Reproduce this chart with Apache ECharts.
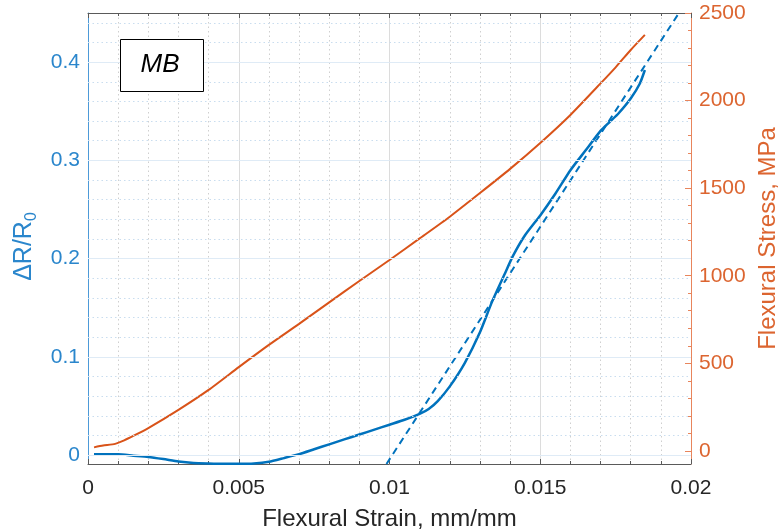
<!DOCTYPE html>
<html>
<head>
<meta charset="utf-8">
<script src="https://cdn.jsdelivr.net/npm/echarts@6/dist/echarts.min.js"></script>
<style>html,body{margin:0;padding:0;background:#fff}#c{width:779px;height:531px}</style>
</head>
<body>
<div id="c"></div>
<script>
// ---- data ----
const blueStrain = [0.0002,0.0005,0.001,0.0015,0.002,0.0025,0.003,0.0035,0.004,0.0045,0.005,0.0055,0.006,0.0065,0.007,0.0075,0.008,0.0085,0.009,0.0095,0.010,0.0105,0.011,0.0113,0.0116,0.012,0.0125,0.013,0.0134,0.0138,0.0141,0.0145,0.015,0.0155,0.016,0.0165,0.017,0.0173,0.0176,0.018,0.0183,0.01847];
const blueDR = [0.001,0.001,0.0008,-0.0005,-0.0018,-0.004,-0.0065,-0.008,-0.0085,-0.0088,-0.0088,-0.0085,-0.0068,-0.003,0.001,0.006,0.011,0.016,0.021,0.026,0.031,0.036,0.042,0.047,0.055,0.070,0.094,0.125,0.156,0.183,0.203,0.224,0.244,0.266,0.290,0.310,0.330,0.339,0.348,0.363,0.378,0.392];
const orangeStrain = [0.0002,0.0005,0.0009,0.0012,0.0015,0.002,0.003,0.004,0.005,0.006,0.007,0.008,0.009,0.010,0.011,0.012,0.013,0.014,0.015,0.016,0.017,0.0175,0.018,0.01847];
const orangeStress = [20,30,40,60,85,130,234,348,478,605,725,848,970,1090,1213,1337,1472,1610,1758,1918,2098,2190,2289,2375];
const fitStrain = [0.0099,0.0196];
const fitDR = [-0.009,0.45];
const xTicks = [0,0.005,0.01,0.015,0.02];
const leftTicks = [0,0.1,0.2,0.3,0.4];
const leftMinorGrid = [0.02,0.04,0.06,0.08,0.12,0.14,0.16,0.18,0.22,0.24,0.26,0.28,0.32,0.34,0.36,0.38,0.42,0.44];
const rightTicks = [0,500,1000,1500,2000,2500];
const rightMinorTicks = [100,200,300,400,600,700,800,900,1100,1200,1300,1400,1600,1700,1800,1900,2100,2200,2300,2400];

const pairs = (xs, ys) => xs.map((x, i) => [x, ys[i]]);
const FONT = 'Liberation Sans, Arial, sans-serif';
const BLUE = '#0072BD', ORANGE = '#D95319';
const BLUE_AX = '#4d9ad8', BLUE_TXT = '#2a86cc';
const OR_AX = '#e8855c', OR_TXT = '#dc6530';
const GRAY_AX = '#5a5a5a';
const GRID = {left: 88, right: 88, top: 13, bottom: 67, containLabel: false, outerBoundsMode: 'none'};

const chart = echarts.init(document.getElementById('c'), null, {renderer: 'canvas'});
const gridLines = [];
leftTicks.forEach(v => gridLines.push({yAxis: v, lineStyle: {color: '#dfebf6', width: 1, type: 'solid'}}));
leftMinorGrid.forEach(v => gridLines.push({yAxis: v, lineStyle: {color: '#c9ddef', width: 1, type: [1.5, 3]}}));

chart.setOption({
  animation: false,
  grid: [Object.assign({}, GRID), Object.assign({}, GRID)],
  xAxis: [{
    type: 'value', gridIndex: 0, min: 0, max: 0.02, interval: 0.005, position: 'bottom',
    axisLine: {show: true, onZero: false, lineStyle: {color: GRAY_AX, width: 1}},
    axisTick: {show: true, inside: true, length: 5, lineStyle: {color: GRAY_AX}},
    minorTick: {show: true, splitNumber: 5, length: 3, lineStyle: {color: GRAY_AX}},
    axisLabel: {color: '#262626', fontFamily: FONT, fontSize: 21, margin: 14,
      formatter: v => xTicks.some(t => Math.abs(t - v) < 1e-9) ? String(+v.toFixed(3)) : ''},
    splitLine: {show: true, lineStyle: {color: '#dcdcdc', width: 1}},
    minorSplitLine: {show: true, lineStyle: {color: '#cfcfcf', width: 1, type: [1.5, 3]}},
    name: 'Flexural Strain, mm/mm', nameLocation: 'middle', nameGap: 43,
    nameTextStyle: {color: '#262626', fontFamily: FONT, fontSize: 24}
  }, {
    type: 'value', gridIndex: 0, min: 0, max: 0.02, interval: 0.005, position: 'top',
    axisLine: {show: true, onZero: false, lineStyle: {color: GRAY_AX, width: 1}},
    axisTick: {show: true, inside: true, length: 5, lineStyle: {color: GRAY_AX}},
    minorTick: {show: true, splitNumber: 5, length: 3, lineStyle: {color: GRAY_AX}},
    axisLabel: {show: false}, splitLine: {show: false}
  }, {
    type: 'value', gridIndex: 1, min: 0, max: 0.02, interval: 0.005, show: false,
    axisLine: {onZero: false}
  }],
  yAxis: [{
    type: 'value', gridIndex: 0, min: -0.009, max: 0.45, position: 'left',
    axisLine: {show: true, onZero: false, lineStyle: {color: BLUE_AX, width: 1}},
    axisTick: {show: true, inside: true, length: 5, customValues: leftTicks, lineStyle: {color: BLUE_AX}},
    axisLabel: {color: BLUE_TXT, fontFamily: FONT, fontSize: 21, margin: 8, customValues: leftTicks,
      formatter: v => String(v)},
    splitLine: {show: false},
    name: '{a|ΔR/R}{b|0}', nameLocation: 'middle', nameGap: 40, nameRotate: 90,
    nameTextStyle: {padding: [0, 16, 0, 0], rich: {
      a: {color: BLUE_TXT, fontFamily: FONT, fontSize: 25, lineHeight: 32, verticalAlign: 'middle'},
      b: {color: BLUE_TXT, fontFamily: FONT, fontSize: 16, lineHeight: 32, verticalAlign: 'bottom'}
    }}
  }, {
    type: 'value', gridIndex: 0, min: -75, max: 2500, position: 'right',
    axisLine: {show: true, onZero: false, lineStyle: {color: OR_AX, width: 1}},
    axisTick: {show: true, inside: true, length: 6, customValues: rightTicks, lineStyle: {color: OR_AX}},
    axisLabel: {color: OR_TXT, fontFamily: FONT, fontSize: 21, margin: 8, customValues: rightTicks,
      formatter: v => String(v)},
    splitLine: {show: false},
    name: 'Flexural Stress, MPa', nameLocation: 'middle', nameGap: 63, nameRotate: 90,
    nameTextStyle: {color: OR_TXT, fontFamily: FONT, fontSize: 24}
  }, {
    type: 'value', gridIndex: 1, min: -75, max: 2500, position: 'right',
    axisLine: {show: false, onZero: false},
    axisTick: {show: true, inside: true, length: 3, customValues: rightMinorTicks, lineStyle: {color: OR_AX}},
    axisLabel: {show: false}, splitLine: {show: false}
  }],
  series: [{
    type: 'line', xAxisIndex: 0, yAxisIndex: 0, data: [], z: 1, silent: true,
    markLine: {silent: true, symbol: ['none', 'none'], label: {show: false}, animation: false, data: gridLines}
  }, {
    type: 'line', name: 'fit', xAxisIndex: 0, yAxisIndex: 0, data: pairs(fitStrain, fitDR),
    showSymbol: false, lineStyle: {color: BLUE, width: 2, type: [7, 5]}, z: 3
  }, {
    type: 'line', name: 'ΔR/R0', xAxisIndex: 0, yAxisIndex: 0, data: pairs(blueStrain, blueDR),
    showSymbol: false, smooth: 0.2, lineStyle: {color: BLUE, width: 2.5}, z: 4
  }, {
    type: 'line', name: 'Stress', xAxisIndex: 0, yAxisIndex: 1, data: pairs(orangeStrain, orangeStress),
    showSymbol: false, smooth: 0.2, lineStyle: {color: ORANGE, width: 2}, z: 4
  }],
  graphic: [{
    type: 'rect', left: 120, top: 39, z: 10,
    shape: {width: 83, height: 52}, style: {fill: '#fff', stroke: '#000', lineWidth: 1}
  }, {
    type: 'text', x: 160, y: 65, z: 11,
    style: {text: 'MB', font: 'italic 26px ' + FONT, fill: '#000', align: 'center', verticalAlign: 'middle'}
  }]
});
</script>
</body>
</html>
